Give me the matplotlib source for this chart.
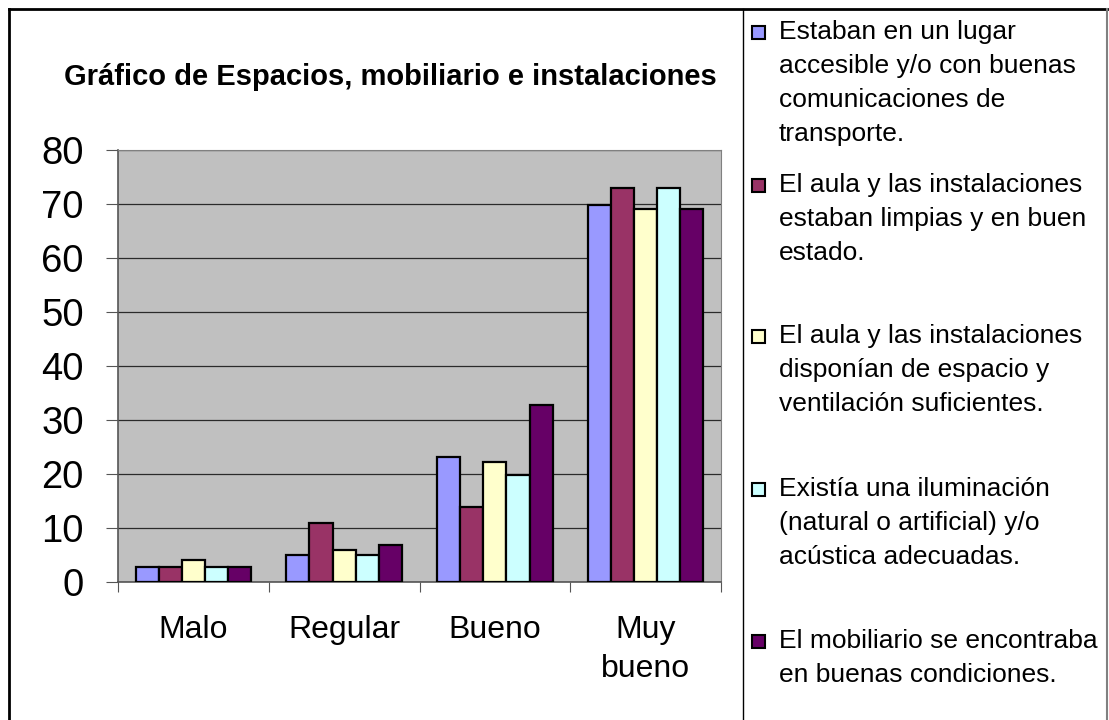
import numpy as np
import matplotlib
matplotlib.use("Agg")
import matplotlib.pyplot as plt
from matplotlib.patches import Rectangle
from matplotlib.lines import Line2D

plt.rcParams['font.family'] = ['Liberation Sans', 'DejaVu Sans']

# datos
categorias = ["Malo", "Regular", "Bueno", "Muy\nbueno"]
accesible = [2.7, 5.0, 23.1, 69.8]
limpias = [2.7, 11.0, 13.8, 73.0]
espacio = [4.1, 6.0, 22.2, 69.0]
iluminacion = [2.7, 5.0, 19.8, 73.0]
mobiliario = [2.7, 6.8, 32.8, 69.0]

series = [accesible, limpias, espacio, iluminacion, mobiliario]
colores = ["#9999FF", "#993366", "#FFFFCC", "#CCFFFF", "#660066"]
etiquetas = [
    ["Estaban en un lugar", "accesible y/o con buenas", "comunicaciones de", "transporte."],
    ["El aula y las instalaciones", "estaban limpias y en buen", "estado."],
    ["El aula y las instalaciones", "disponían de espacio y", "ventilación suficientes."],
    ["Existía una iluminación", "(natural o artificial) y/o", "acústica adecuadas."],
    ["El mobiliario se encontraba", "en buenas condiciones."],
]

W, H = 1109, 720
fig = plt.figure(figsize=(W / 100, H / 100), dpi=100)

def fx(px):
    return px / W

def fy(py):
    return 1 - py / H

ax = fig.add_axes([fx(118), fy(582), fx(721) - fx(118), fy(150) - fy(582)])
ax.set_facecolor("#C0C0C0")

x = np.arange(len(categorias))
w = 0.1535
for i, vals in enumerate(series):
    ax.bar(x + (i - 2) * w, vals, width=w, color=colores[i], edgecolor="black",
           linewidth=1.6, zorder=3)

ax.set_xlim(-0.5, 3.5)
ax.set_ylim(0, 80)
ax.set_yticks(np.arange(0, 81, 10))
ax.yaxis.grid(True, color="#2a2a2a", linewidth=0.9, zorder=1)
ax.set_axisbelow(True)
ax.tick_params(axis="y", labelsize=27.5, length=8.6, pad=16, color="#555555")

ax.set_xticks(np.arange(-0.5, 4, 1))
ax.set_xticklabels([])
ax.tick_params(axis="x", which="major", length=7.5, color="#555555")
ax.set_xticks(x, minor=True)
ax.set_xticklabels(categorias, minor=True, fontsize=23, linespacing=1.38)
ax.tick_params(axis="x", which="minor", length=0, pad=24)

for s in ["top", "right"]:
    ax.spines[s].set_color("#808080")
for s in ["left", "bottom"]:
    ax.spines[s].set_color("#555555")
    ax.spines[s].set_linewidth(1.2)

fig.text(fx(390), fy(77), "Gráfico de Espacios, mobiliario e instalaciones",
         ha="center", va="center", fontsize=21, fontweight="bold")

# leyenda dibujada a mano
tops = [32, 185, 336, 489, 641]
for k, lineas in enumerate(etiquetas):
    fig.patches.append(Rectangle((fx(752), fy(tops[k] + 7)), fx(13), fy(0) - fy(13),
                                 transform=fig.transFigure, facecolor=colores[k],
                                 edgecolor="black", linewidth=1.5))
    for j, t in enumerate(lineas):
        fig.text(fx(779), fy(tops[k] + 34 * j), t, ha="left", va="center", fontsize=19)

# marcos
fig.lines.append(Line2D([fx(9), fx(9)], [fy(9), 0], transform=fig.transFigure,
                        color="black", linewidth=2))
fig.lines.append(Line2D([fx(9), fx(1107)], [fy(9), fy(9)], transform=fig.transFigure,
                        color="black", linewidth=2))
fig.lines.append(Line2D([fx(1107), fx(1107)], [fy(9), 0], transform=fig.transFigure,
                        color="#808080", linewidth=1.5))
fig.lines.append(Line2D([fx(743), fx(743)], [fy(9), 0], transform=fig.transFigure,
                        color="black", linewidth=1))

fig.savefig("out.png", dpi=100)
